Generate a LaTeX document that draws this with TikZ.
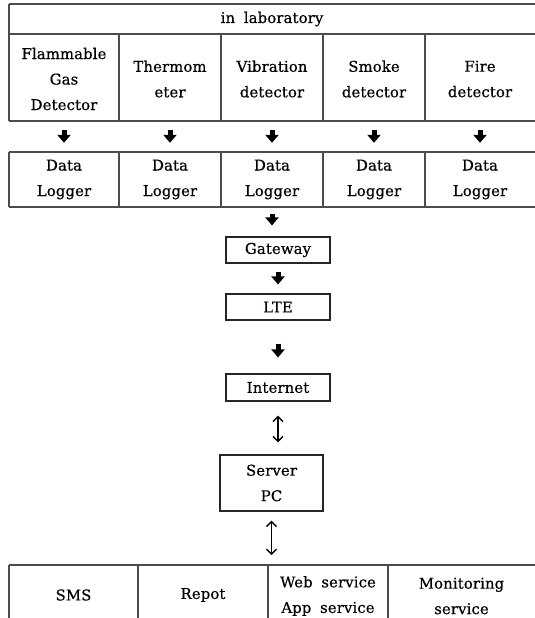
\documentclass[tikz,border=0pt]{standalone}
\usepackage{fontspec}
\setmainfont[WordSpace=1.8,LetterSpace=1,FakeBold=0.5]{DejaVu Serif}
\usetikzlibrary{arrows.meta}
\begin{document}
\begin{tikzpicture}[x=1pt,y=-1pt,
  grid/.style={draw=black!70, line width=1.1pt},
  cell/.style={inner sep=0pt, align=center, font=\fontsize{14.8}{25.5}\selectfont},
  box/.style={draw=black!85, line width=1.1pt, inner sep=0pt, align=center, font=\fontsize{14.8}{25.5}\selectfont},
  bigarrow/.style={line width=5pt, -{Triangle[width=13pt,length=8pt]}},
  dblarrow/.style={line width=1.4pt, {Straight Barb[length=5pt,width=10pt]}-{Straight Barb[length=5pt,width=10pt]}}]
\useasboundingbox (0,0) rectangle (535,618);
% top table grid
\draw[grid] (9,4) -- (545,4) (9,34) -- (545,34) (9,121) -- (545,121);
\draw[grid] (9,4) -- (9,121);
\foreach \x in {119,221,323,425} \draw[grid] (\x,34) -- (\x,121);
% logger row grid
\draw[grid] (9,152) -- (545,152) (9,207) -- (545,207);
\foreach \x in {9,119,221,323,425} \draw[grid] (\x,152) -- (\x,207);
% bottom table grid
\draw[grid] (9,565) -- (545,565);
\foreach \x in {9,138,268,388} \draw[grid] (\x,565) -- (\x,625);

\node[cell, minimum width=526, minimum height=30] (lab) at (272,19) {in laboratory};
\node[cell, minimum width=110, minimum height=87] (s1) at (64,79) {Flammable\\Gas\\Detector};
\node[cell, minimum width=102, minimum height=87] (s2) at (170,79) {Thermom\\eter};
\node[cell, minimum width=102, minimum height=87] (s3) at (272,79) {Vibration\\detector};
\node[cell, minimum width=102, minimum height=87] (s4) at (374,79) {Smoke\\detector};
\node[cell, minimum width=110, minimum height=87] (s5) at (480,79) {Fire\\detector};

\node[cell, minimum width=110, minimum height=55] (d1) at (64,179.5) {Data\\Logger};
\node[cell, minimum width=102, minimum height=55] (d2) at (170,179.5) {Data\\Logger};
\node[cell, minimum width=102, minimum height=55] (d3) at (272,179.5) {Data\\Logger};
\node[cell, minimum width=102, minimum height=55] (d4) at (374,179.5) {Data\\Logger};
\node[cell, minimum width=110, minimum height=55] (d5) at (480,179.5) {Data\\Logger};

\foreach \i in {1,...,5}
  \draw[bigarrow, shorten <=7pt, shorten >=9pt] (s\i.south) -- (d\i.north);

\node[box, minimum width=104, minimum height=26] (gw) at (278,250) {Gateway};
\node[box, minimum width=104, minimum height=26] (lte) at (278,307) {LTE};
\node[box, minimum width=104, minimum height=27] (inet) at (278,387.5) {Internet};
\node[box, minimum width=103, minimum height=56] (srv) at (271.5,483) {Server\\PC};

\node[cell, minimum width=129, minimum height=60] (b1) at (73.5,595) {SMS};
\node[cell, minimum width=130, minimum height=60] (b2) at (203,595) {Repot};
\node[cell, minimum width=120, minimum height=60] (b3) at (328,596) {Web service\\App service};
\node[cell, minimum width=147, minimum height=60] (b4) at (461.5,596) {Monitoring\\service};

\draw[bigarrow, shorten <=7pt, shorten >=11pt] (d3.south) -- (d3.south |- gw.north);
\draw[bigarrow, shorten <=8pt, shorten >=9pt] (gw) -- (lte);
\draw[bigarrow, shorten <=23pt, shorten >=16pt] (lte) -- (inet);
\draw[dblarrow, shorten <=14pt, shorten >=12pt] (inet.south) -- (inet.south |- srv.north);
\draw[dblarrow, shorten <=9pt, shorten >=10pt] (srv.south) -- (srv.south |- 0,565);
\end{tikzpicture}
\end{document}
